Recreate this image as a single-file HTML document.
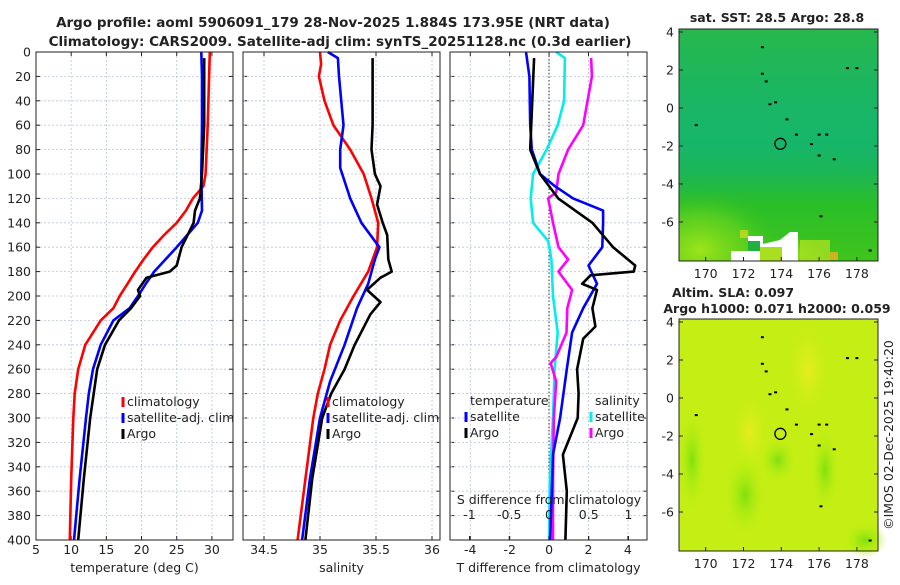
<!DOCTYPE html>
<html><head><meta charset="utf-8">
<style>
body{margin:0;background:#fff;}
svg text{font-family:"DejaVu Sans","Liberation Sans",sans-serif;fill:#222;}
</style></head>
<body>
<svg id="fig" width="900" height="580" viewBox="0 0 900 580" xmlns="http://www.w3.org/2000/svg">
<defs>
<linearGradient id="sstg" x1="0" y1="0" x2="0" y2="1">
<stop offset="0" stop-color="#26b84c"/><stop offset="0.3" stop-color="#1ab664"/><stop offset="0.5" stop-color="#16b66a"/><stop offset="0.62" stop-color="#1cb656"/><stop offset="0.75" stop-color="#2abe2a"/><stop offset="1" stop-color="#40c41c"/>
</linearGradient>
<radialGradient id="sstg2" cx="0.5" cy="0.5" r="0.5"><stop offset="0" stop-color="#a8e81a" stop-opacity="0.9"/><stop offset="0.6" stop-color="#80dc1a" stop-opacity="0.45"/><stop offset="1" stop-color="#40c41c" stop-opacity="0"/></radialGradient>
<radialGradient id="slag1" cx="0.5" cy="0.5" r="0.5"><stop offset="0" stop-color="#80e010"/><stop offset="1" stop-color="#b8f010" stop-opacity="0"/></radialGradient>
<radialGradient id="slag2" cx="0.5" cy="0.5" r="0.5"><stop offset="0" stop-color="#e8ec20"/><stop offset="1" stop-color="#c0f010" stop-opacity="0"/></radialGradient>
<clipPath id="sstclip"><rect x="679" y="29" width="199" height="232"/></clipPath>
</defs>
<text x="333" y="27" text-anchor="middle" font-size="13.5" font-weight="bold">Argo profile: aoml 5906091_179 28-Nov-2025 1.884S 173.95E (NRT data)</text>
<text x="340" y="46" text-anchor="middle" font-size="13.5" font-weight="bold">Climatology: CARS2009. Satellite-adj clim: synTS_20251128.nc (0.3d earlier)</text>
<g id="plots"></g>
<g clip-path="url(#sstclip)">
<text x="777" y="22" text-anchor="middle" font-size="12.5" font-weight="bold">sat. SST: 28.5 Argo: 28.8</text>
<rect x="679" y="29" width="199" height="232" fill="url(#sstg)"/>
<ellipse cx="700" cy="250" rx="80" ry="60" fill="url(#sstg2)"/>
<ellipse cx="790" cy="255" rx="40" ry="20" fill="url(#sstg2)"/>
<rect x="800" y="240" width="30" height="21" fill="#a8e020" opacity="0.8"/>
<rect x="830" y="252" width="8" height="8" fill="#f0b020" opacity="0.8"/>
<rect x="740" y="230" width="8" height="8" fill="#f0e020" opacity="0.6"/>
<path d="M731 261 L731 251 L748 251 L748 236 L763 236 L763 244 L780 240 L790 232 L798 232 L798 261 Z" fill="#fff"/>
<rect x="748" y="241" width="12" height="10" fill="#20b040"/>
<rect x="760" y="247" width="22" height="14" fill="#a8e020"/>
</g>
<text x="777" y="22" text-anchor="middle" font-size="12.5" font-weight="bold">sat. SST: 28.5 Argo: 28.8</text>
<g>
<text x="733" y="297" text-anchor="middle" font-size="12.5" font-weight="bold">Altim. SLA: 0.097</text>
<text x="777" y="313" text-anchor="middle" font-size="12.5" font-weight="bold">Argo h1000: 0.071 h2000: 0.059</text>
<rect x="679" y="319" width="199" height="232" fill="#c4ee14"/>
<ellipse cx="750" cy="432" rx="22" ry="45" fill="url(#slag2)"/>
<ellipse cx="808" cy="370" rx="25" ry="55" fill="url(#slag2)"/>
<ellipse cx="825" cy="470" rx="14" ry="40" fill="url(#slag1)"/>
<ellipse cx="745" cy="495" rx="20" ry="40" fill="url(#slag1)"/>
<ellipse cx="692" cy="460" rx="14" ry="50" fill="url(#slag1)"/>
<ellipse cx="865" cy="540" rx="22" ry="18" fill="url(#slag1)"/>
<ellipse cx="778" cy="460" rx="18" ry="22" fill="url(#slag1)"/>
</g>
<g id="maps"></g>
<text transform="translate(893,435) rotate(-90)" text-anchor="middle" font-size="12.5">©IMOS 02-Dec-2025 19:40:20</text>
</svg>
<script>
var tClimDepth=[0,20,60,100,110,120,130,140,150,160,170,180,190,200,210,220,240,260,280,300,350,400];
var tClim=[29.7,29.6,29.4,29.1,28.8,27.3,26.3,25.0,23.2,21.6,20.3,19.1,18.0,16.9,16.0,14.2,12.0,11.0,10.5,10.3,10.0,9.8];
var tSatDepth=[0,20,60,100,130,140,150,160,170,180,190,200,210,220,240,260,280,300,350,400];
var tSat=[28.5,28.6,28.6,28.5,28.6,28.0,26.5,25.0,23.4,21.8,20.6,19.5,18.3,16.0,14.2,13.1,12.5,12.1,11.2,10.4];
var tArgoDepth=[5,60,100,120,130,140,160,175,180,185,195,200,210,220,240,260,280,300,350,400];
var tArgo=[28.9,28.9,28.6,28.3,27.6,27.4,25.7,25.0,24.0,20.7,19.5,19.8,18.5,16.8,14.8,13.7,13.2,12.7,11.8,11.0];
var sClimDepth=[0,10,20,40,60,80,100,120,140,160,180,200,220,240,260,280,300,350,400];
var sClim=[35.0,35.01,34.99,35.04,35.12,35.27,35.39,35.46,35.52,35.51,35.43,35.3,35.18,35.09,35.04,34.98,34.94,34.87,34.8];
var sSatDepth=[0,5,20,60,80,95,120,140,160,170,190,210,240,270,300,350,400];
var sSat=[35.07,35.16,35.17,35.21,35.18,35.18,35.27,35.37,35.53,35.49,35.43,35.33,35.22,35.09,35.0,34.91,34.84];
var sArgoDepth=[5,60,80,100,110,125,140,150,170,180,185,195,205,215,240,260,280,300,350,400];
var sArgo=[35.47,35.47,35.46,35.49,35.54,35.51,35.56,35.6,35.61,35.64,35.54,35.42,35.54,35.45,35.31,35.22,35.1,35.02,34.93,34.87];
var dTSatDepth=[0,20,60,80,100,110,120,130,140,160,175,190,210,230,260,300,330,400];
var dTSat=[-1.17,-1.0,-0.96,-0.88,-0.46,0.3,1.22,2.74,2.74,2.7,2.0,2.43,1.73,1.17,0.9,0.56,0.2,0.05];
var dTArgoDepth=[5,80,100,120,140,160,175,180,183,190,195,210,225,235,260,280,300,330,360,400];
var dTArgo=[-0.76,-0.96,-0.46,0.46,2.2,3.25,4.37,4.3,2.1,1.68,2.43,2.2,2.35,1.73,1.42,1.5,1.45,0.7,0.9,0.83];
var dSSatDepth=[0,5,40,60,80,100,120,140,155,170,200,230,260,300,350,400];
var dSSat=[0.09,0.2,0.19,0.11,-0.03,-0.2,-0.23,-0.2,-0.01,0.03,0.05,0.11,0.07,0.05,0.01,0.0];
var dSArgoDepth=[5,20,60,80,100,115,120,140,160,170,180,195,210,230,250,255,270,300,350,400];
var dSArgo=[0.53,0.54,0.43,0.24,0.12,0.09,-0.01,0.05,0.12,0.24,0.12,0.29,0.23,0.22,0.09,0.02,0.09,0.06,0.05,0.05];
var depthTicks=[0,20,40,60,80,100,120,140,160,180,200,220,240,260,280,300,320,340,360,380,400];
var tTicks=[5,10,15,20,25,30];
var sTicks=[34.5,35,35.5,36];
var dTTicks=[-4,-2,0,2,4];
var dSTicks=[-1,-0.5,0,0.5,1];
var islandLon=[173.0,173.0,173.2,173.4,173.7,174.3,174.8,176.0,176.4,175.6,176.0,176.8,176.1,178.7,169.5,177.5,178.0];
var islandLat=[3.2,1.8,1.4,0.2,0.3,-0.6,-1.4,-1.4,-1.4,-1.9,-2.5,-2.7,-5.7,-7.5,-0.9,2.1,2.1];
var argoLon=173.95, argoLat=-1.884;

var NS='http://www.w3.org/2000/svg';
var plots=document.getElementById('plots');
function mk(tag,attrs,parent){var e=document.createElementNS(NS,tag);for(var k in attrs)e.setAttribute(k,attrs[k]);(parent||plots).appendChild(e);return e;}
var Y0=52,Y1=540;
function yS(d){return Y0+(d/400)*(Y1-Y0);}

function panel(name,x0,x1,xmin,xmax,ticks,tickFmt,xlabel){
  var g=mk('g',{});
  
  
  var xs=function(v){return x0+(v-xmin)/(xmax-xmin)*(x1-x0);};
  depthTicks.forEach(function(d){
    var l=mk('line',{x1:x0,x2:x1,y1:yS(d),y2:yS(d),stroke:'#b8c4dc','stroke-width':0.8,'stroke-dasharray':'2,2'},g);
    
    
  });
  ticks.forEach(function(v){
    var l=mk('line',{x1:xs(v),x2:xs(v),y1:Y0,y2:Y1,stroke:'#b8c4dc','stroke-width':0.8,'stroke-dasharray':'2,2'},g);
    
    
    mk('line',{x1:xs(v),x2:xs(v),y1:Y1,y2:Y1-4,stroke:'#222'},g);
    mk('line',{x1:xs(v),x2:xs(v),y1:Y0,y2:Y0+4,stroke:'#222'},g);
    var t=mk('text',{x:xs(v),y:554,'text-anchor':'middle','font-size':12.5},g);
    t.textContent=tickFmt(v);
    
    
  });
  var xl=mk('text',{x:(x0+x1)/2,y:572,'text-anchor':'middle','font-size':12.5},g);
  xl.textContent=xlabel;
  
  
  return {g:g,xs:xs,x0:x0,x1:x1};
}
function frame(p){
  var r=mk('rect',{x:p.x0,y:Y0,width:p.x1-p.x0,height:Y1-Y0,fill:'none',stroke:'#222','stroke-width':1},p.g);
  
  
}
function line(p,xsF,depths,vals,color,name){
  var pts=depths.map(function(d,i){return xsF(vals[i]).toFixed(1)+','+yS(d).toFixed(1);}).join(' ');
  var e=mk('polyline',{points:pts,fill:'none',stroke:color,'stroke-width':2.6,'stroke-linejoin':'round'},p.g);
  
  
}
function legend(p,x,y,label,color,name){
  if(color){mk('line',{x1:x-4,x2:x-4,y1:y-9,y2:y+1,stroke:color,'stroke-width':3},p.g);}
  var t=mk('text',{x:x,y:y,'font-size':12.5},p.g);
  t.textContent=label;
  
  
}

var p1=panel('temperature-panel',36,233,5,33,tTicks,function(v){return v;},'temperature (deg C)');
depthTicks.forEach(function(d){
  var t=mk('text',{x:31,y:yS(d)+4.5,'text-anchor':'end','font-size':12.5},p1.g);
  t.textContent=d;
  
  
  [36,243,450].forEach(function(x0){mk('line',{x1:x0,x2:x0+4,y1:yS(d),y2:yS(d),stroke:'#222'},p1.g);mk('line',{x1:x0+197,x2:x0+193,y1:yS(d),y2:yS(d),stroke:'#222'},p1.g);});
});
line(p1,p1.xs,tClimDepth,tClim,'#ff0000','temp-climatology-line');
line(p1,p1.xs,tSatDepth,tSat,'#0000ff','temp-satellite-line');
line(p1,p1.xs,tArgoDepth,tArgo,'#000000','temp-argo-line');
legend(p1,127,406,'climatology','#ff0000','legend-climatology');
legend(p1,127,422,'satellite-adj. clim','#0000ff','legend-satellite');
legend(p1,127,438,'Argo','#000','legend-argo');
frame(p1);

var p2=panel('salinity-panel',243,440,34.3125,36.0714,sTicks,function(v){return v;},'salinity');
line(p2,p2.xs,sClimDepth,sClim,'#ff0000','sal-climatology-line');
line(p2,p2.xs,sSatDepth,sSat,'#0000ff','sal-satellite-line');
line(p2,p2.xs,sArgoDepth,sArgo,'#000000','sal-argo-line');
legend(p2,332,406,'climatology','#ff0000','legend-climatology');
legend(p2,332,422,'satellite-adj. clim','#0000ff','legend-satellite');
legend(p2,332,438,'Argo','#000','legend-argo');

var p3=panel('difference-panel',450,647,-5.03,4.97,dTTicks,function(v){return v;},'T difference from climatology');
var sx=function(v){return 549+v*79.5;};
mk('line',{x1:549,x2:549,y1:Y0,y2:Y1,stroke:'#333','stroke-width':1,'stroke-dasharray':'1.5,2'},p3.g);
line(p3,sx,dSSatDepth,dSSat,'#00eeee','sal-diff-satellite-line');
line(p3,sx,dSArgoDepth,dSArgo,'#ff00ff','sal-diff-argo-line');
line(p3,p3.xs,dTSatDepth,dTSat,'#0000ff','temp-diff-satellite-line');
line(p3,p3.xs,dTArgoDepth,dTArgo,'#000000','temp-diff-argo-line');
legend(p3,470,405,'temperature',null,'legend-temperature-heading');
legend(p3,470,421,'satellite','#0000ff','legend-temp-satellite');
legend(p3,470,437,'Argo','#000','legend-temp-argo');
legend(p3,595,405,'salinity',null,'legend-salinity-heading');
legend(p3,595,421,'satellite','#00eeee','legend-sal-satellite');
legend(p3,595,437,'Argo','#ff00ff','legend-sal-argo');
var st=mk('text',{x:549,y:504,'text-anchor':'middle','font-size':12.5},p3.g);
st.textContent='S difference from climatology';


dSTicks.forEach(function(v){
  var t=mk('text',{x:sx(v),y:519,'text-anchor':'middle','font-size':12.5},p3.g);
  t.textContent=v;
  
  
  mk('line',{x1:sx(v),x2:sx(v),y1:Y1,y2:Y1-4,stroke:'#222'},p3.g);
});
frame(p2);frame(p3);

var maps=document.getElementById('maps');
var lonTicks=[170,172,174,176,178], latTicks=[4,2,0,-2,-4,-6];
function mapAxes(name,top,lat4y){
  var g=mk('g',{},maps);
  
  
  var lx=function(l){return 705.7+(l-170)*18.9;};
  var ly=function(l){return lat4y+(4-l)*19.0;};
  mk('rect',{x:679,y:top,width:199,height:232,fill:'none',stroke:'#222'},g);
  lonTicks.forEach(function(l){
    mk('line',{x1:lx(l),x2:lx(l),y1:top+232,y2:top+228,stroke:'#222'},g);
    var t=mk('text',{x:lx(l),y:top+249,'text-anchor':'middle','font-size':12.5},g);
    t.textContent=l;
    
    
  });
  latTicks.forEach(function(l){
    mk('line',{x1:679,x2:683,y1:ly(l),y2:ly(l),stroke:'#222'},g);
    mk('line',{x1:878,x2:874,y1:ly(l),y2:ly(l),stroke:'#222'},g);
    var t=mk('text',{x:674,y:ly(l)+4.5,'text-anchor':'end','font-size':12.5},g);
    t.textContent=l;
    
    
  });
  islandLon.forEach(function(lo,i){
    var d=mk('rect',{x:lx(lo)-1.5,y:ly(islandLat[i])-1,width:3,height:2,fill:'#000'},g);
    
    
  });
  var c=mk('circle',{cx:lx(argoLon),cy:ly(argoLat),r:5.5,fill:'none',stroke:'#000','stroke-width':1.3},g);
  
  
}
mapAxes('sst-map-axes',29,32);
mapAxes('sla-map-axes',319,322);
</script>
</body></html>
